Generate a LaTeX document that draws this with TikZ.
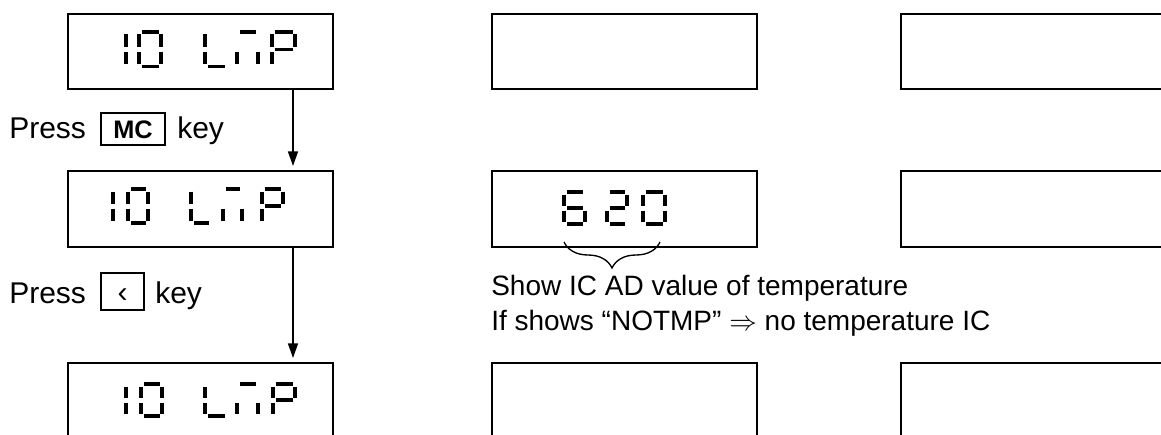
\documentclass[tikz,border=0pt]{standalone}
\usepackage{graphicx}
\usepackage{fontspec}
\setmainfont{Liberation Sans}
\usetikzlibrary{arrows.meta,decorations.pathreplacing,calc}
\newcommand\sga{\draw[segl] (\sgX+\sgG,\sgY) -- (\sgX+\sgW-\sgG,\sgY);}
\newcommand\sgb{\draw[segl] (\sgX+\sgW,\sgY+\sgG) -- (\sgX+\sgW,\sgY+\sgH/2-\sgG);}
\newcommand\sgc{\draw[segl] (\sgX+\sgW,\sgY+\sgH/2+\sgG) -- (\sgX+\sgW,\sgY+\sgH-\sgG);}
\newcommand\sgd{\draw[segl] (\sgX+\sgG,\sgY+\sgH) -- (\sgX+\sgW-\sgG,\sgY+\sgH);}
\newcommand\sge{\draw[segl] (\sgX,\sgY+\sgH/2+\sgG) -- (\sgX,\sgY+\sgH-\sgG);}
\newcommand\sgf{\draw[segl] (\sgX,\sgY+\sgG) -- (\sgX,\sgY+\sgH/2-\sgG);}
\newcommand\sgg{\draw[segl] (\sgX+\sgG,\sgY+\sgH/2) -- (\sgX+\sgW-\sgG,\sgY+\sgH/2);}
\newcommand\sgG{2.5}
\newcommand\dg[5]{\def\sgX{#1}\def\sgY{#2}\def\sgW{#3}\def\sgH{#4}\foreach \s in {#5}{\csname sg\s\endcsname}}
\tikzset{
  lcd/.style={draw, line width=1.5pt, inner sep=0pt, minimum width=265*0.75pt},
  keybox/.style={draw, line width=1.1pt, inner sep=0pt},
  segl/.style={line width=2.4pt, line cap=butt},
  txt/.style={anchor=base west, inner sep=0pt, font=\fontsize{22.5pt}{27pt}\selectfont},
  mtxt/.style={anchor=base west, inner sep=0pt, font=\fontsize{21pt}{25pt}\selectfont},
  arr/.style={line width=1.1pt, -{Triangle[length=11pt,width=7.5pt]}},
}
\begin{document}
\begin{tikzpicture}[x=0.75pt,y=-0.75pt]
\useasboundingbox (0,0) rectangle (1161,435);
\clip (0,0) rectangle (1161,435);
% left column
\node[lcd, minimum height=75*0.75pt] (b1) at (200.5,51.5) {};
\node[lcd, minimum height=76*0.75pt] (b2) at (200.5,209) {};
\node[lcd, minimum height=107*0.75pt] (b3) at (200.5,416.5) {};
% middle column
\node[lcd, minimum height=75*0.75pt] (m1) at (624.5,51.5) {};
\node[lcd, minimum height=76*0.75pt] (m2) at (624.5,209) {};
\node[lcd, minimum height=107*0.75pt] (m3) at (624.5,416.5) {};
% right column
\node[lcd, minimum width=269*0.75pt, minimum height=75*0.75pt] (r1) at (1035.5,51.5) {};
\node[lcd, minimum width=269*0.75pt, minimum height=76*0.75pt] (r2) at (1035.5,209) {};
\node[lcd, minimum width=269*0.75pt, minimum height=107*0.75pt] (r3) at (1035.5,416.5) {};
% arrows
\draw[arr] ([xshift=92.5*0.75pt]b1.south) -- ([xshift=92.5*0.75pt,yshift=3pt]b2.north);
\draw[arr] ([xshift=92.5*0.75pt]b2.south) -- ([xshift=92.5*0.75pt,yshift=3pt]b3.north);
% digits box 1
\dg{104}{32}{22}{34.5}{b,c}
\dg{139}{32}{22}{34.5}{a,b,c,d,e,f}
\dg{205}{32}{22}{34.5}{f,e,d}
\dg{237}{32}{21}{34.5}{a,e,c}
\dg{272}{32}{23}{34.5}{a,b,f,e,g}
% digits box 2
\dg{93}{189}{20}{34}{b,c}
\dg{128}{189}{20}{34}{a,b,c,d,e,f}
\dg{191}{189}{20}{34}{f,e,d}
\dg{223}{189}{19}{34}{a,e,c}
\dg{262}{189}{21}{34}{a,b,f,e,g}
% digits box 3
\dg{104}{384}{22}{32}{b,c}
\dg{141}{384}{21}{32}{a,b,c,d,e,f}
\dg{205}{384}{22}{32}{f,e,d}
\dg{237}{384}{21}{32}{a,e,c}
\dg{273}{384}{22}{32}{a,b,f,e,g}
% 620
\dg{564}{192}{21}{32}{a,f,g,e,d,c}
\dg{607}{192}{20}{32}{a,b,g,e,d}
\dg{643}{192}{22}{32}{a,b,c,d,e,f}
% brace
\coordinate (brL) at (564,242);
\coordinate (brR) at (660,242);
\draw[line width=1pt, decorate, decoration={brace, mirror, amplitude=19.5pt}] (brL) -- (brR);
% left texts
\node[txt] (p1) at (9,138) {Press};
\node[keybox, minimum width=64*0.75pt, minimum height=32*0.75pt] (k1) at (133,129)
  {\smash{\raisebox{-7pt}{\fontsize{19pt}{21pt}\selectfont\bfseries MC}}};
\node[txt] (y1) at (177,138) {key};
\node[txt] (p2) at (9,303) {Press};
\node[keybox, minimum width=43*0.75pt, minimum height=37*0.75pt] (k2) at (122.5,291.5)
  {\smash{\raisebox{-8.6pt}{\fontsize{22.5pt}{27pt}\selectfont ‹}}};
\node[txt] (y2) at (155,303) {key};
% middle texts
\node[mtxt] (t1) at (491,295) {Show IC AD value of temperature};
\node[mtxt] (t2) at (491,330) {If shows “NOTMP” $\Rightarrow$ no temperature IC};
\end{tikzpicture}
\end{document}
